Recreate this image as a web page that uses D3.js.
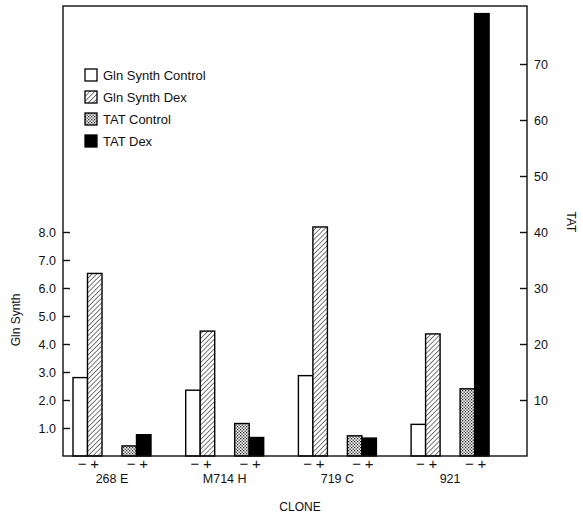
<!DOCTYPE html>
<html>
<head>
<meta charset="utf-8">
<script src="https://cdn.jsdelivr.net/npm/d3@7"></script>
<style>
  html, body { margin: 0; padding: 0; background: #fff; }
  svg { display: block; }
  text { font-family: "Liberation Sans", Arial, Helvetica, sans-serif; fill: #111; }
</style>
</head>
<body>
<svg id="chart" width="583" height="517"></svg>
<script>
// ---- data ----
const clones = ["268 E", "M714 H", "719 C", "921"];
const glnControl = [2.8, 2.35, 2.87, 1.13];   // left axis (Gln Synth)
const glnDex     = [6.52, 4.46, 8.18, 4.36];  // left axis
const tatControl = [1.8, 5.8, 3.6, 12.0];     // right axis (TAT)
const tatDex     = [3.8, 3.3, 3.2, 79.0];     // right axis
const leftTicks  = [1, 2, 3, 4, 5, 6, 7, 8];
const rightTicks = [10, 20, 30, 40, 50, 60, 70];
const seriesNames = ["Gln Synth Control", "Gln Synth Dex", "TAT Control", "TAT Dex"];

// ---- layout ----
const svg = d3.select("#chart");
const frame = { left: 63, right: 527, top: 6, bottom: 456 };

const yL = d3.scaleLinear().domain([0, 8]).range([frame.bottom, frame.bottom - 224]);
const yR = d3.scaleLinear().domain([0, 70]).range([frame.bottom, frame.bottom - 392]);
const xClone = d3.scaleBand().domain(clones).range([73, 73 + 4 * 112.7]).paddingInner(0).paddingOuter(0);
const barW = 14.5;
const subOffset = { gc: 0, gd: 14.5, tc: 49, td: 63.5 };
const groupW = 78;

// patterns
const defs = svg.append("defs");
const hatch = defs.append("pattern").attr("id", "hatch").attr("patternUnits", "userSpaceOnUse")
  .attr("width", 3.4).attr("height", 3.4).attr("patternTransform", "rotate(45)");
hatch.append("rect").attr("width", 3.4).attr("height", 3.4).attr("fill", "#fff");
hatch.append("line").attr("x1", 0).attr("y1", 0).attr("x2", 0).attr("y2", 3.4)
  .attr("stroke", "#222").attr("stroke-width", 1.2);

const dots = defs.append("pattern").attr("id", "dots").attr("patternUnits", "userSpaceOnUse")
  .attr("width", 3).attr("height", 3);
dots.append("rect").attr("width", 3).attr("height", 3).attr("fill", "#fff");
dots.append("rect").attr("x", 0).attr("y", 0).attr("width", 1.3).attr("height", 1.3).attr("fill", "#222");
dots.append("rect").attr("x", 1.5).attr("y", 1.5).attr("width", 1.3).attr("height", 1.3).attr("fill", "#222");

const fills = { gc: "#fff", gd: "url(#hatch)", tc: "url(#dots)", td: "#000" };

// bars
const bars = [];
clones.forEach((c, i) => {
  bars.push({ c, key: "gc", v: glnControl[i], y: yL });
  bars.push({ c, key: "gd", v: glnDex[i], y: yL });
  bars.push({ c, key: "tc", v: tatControl[i], y: yR });
  bars.push({ c, key: "td", v: tatDex[i], y: yR });
});

svg.append("g").selectAll("rect").data(bars).join("rect")
  .attr("x", d => xClone(d.c) + subOffset[d.key])
  .attr("width", barW)
  .attr("y", d => d.y(d.v))
  .attr("height", d => frame.bottom - d.y(d.v))
  .attr("fill", d => fills[d.key])
  .attr("stroke", "#000")
  .attr("stroke-width", 1.4);

// frame
svg.append("rect")
  .attr("x", frame.left).attr("y", frame.top)
  .attr("width", frame.right - frame.left).attr("height", frame.bottom - frame.top)
  .attr("fill", "none").attr("stroke", "#111").attr("stroke-width", 1.4);

// axes
const axL = svg.append("g").attr("transform", `translate(${frame.left},0)`)
  .call(d3.axisLeft(yL).tickValues(leftTicks).tickSize(-7).tickSizeOuter(0).tickPadding(7)
    .tickFormat(d3.format(".1f")));
const axR = svg.append("g").attr("transform", `translate(${frame.right},0)`)
  .call(d3.axisRight(yR).tickValues(rightTicks).tickSize(-7).tickSizeOuter(0).tickPadding(7));
[axL, axR].forEach(ax => {
  ax.select(".domain").remove();
  ax.selectAll(".tick line").attr("stroke", "#111").attr("stroke-width", 1.4);
  ax.selectAll(".tick text").attr("font-size", 12.5).attr("font-family", "Liberation Sans, Arial, sans-serif").attr("fill", "#111");
});

// minus/plus labels
const signs = [];
clones.forEach(c => {
  signs.push({ c, key: "gc", t: "−" }, { c, key: "gd", t: "+" },
             { c, key: "tc", t: "−" }, { c, key: "td", t: "+" });
});
svg.append("g").selectAll("text").data(signs).join("text")
  .attr("x", d => xClone(d.c) + subOffset[d.key] + barW / 2 + (d.t === "−" ? 2 : 0))
  .attr("y", 469)
  .attr("text-anchor", "middle")
  .attr("font-size", 15)
  .text(d => d.t);

// clone labels
svg.append("g").selectAll("text").data(clones).join("text")
  .attr("x", d => xClone(d) + groupW / 2)
  .attr("y", 483)
  .attr("text-anchor", "middle")
  .attr("font-size", 12.5)
  .text(d => d);

// axis titles
svg.append("text").attr("x", 300).attr("y", 511).attr("text-anchor", "middle")
  .attr("font-size", 12).text("CLONE");
svg.append("text").attr("transform", "translate(20,320) rotate(-90)")
  .attr("text-anchor", "middle").attr("font-size", 12).text("Gln Synth");
svg.append("text").attr("transform", "translate(567,222) rotate(90)")
  .attr("text-anchor", "middle").attr("font-size", 12).text("TAT");

// legend
const legendKeys = ["gc", "gd", "tc", "td"];
const lg = svg.append("g").selectAll("g").data(seriesNames).join("g")
  .attr("transform", (d, i) => `translate(85,${69 + i * 22})`);
lg.append("rect").attr("width", 12).attr("height", 12)
  .attr("fill", (d, i) => fills[legendKeys[i]]).attr("stroke", "#000").attr("stroke-width", 1.3);
lg.append("text").attr("x", 18).attr("y", 11).attr("font-size", 13).text(d => d);
</script>
</body>
</html>
